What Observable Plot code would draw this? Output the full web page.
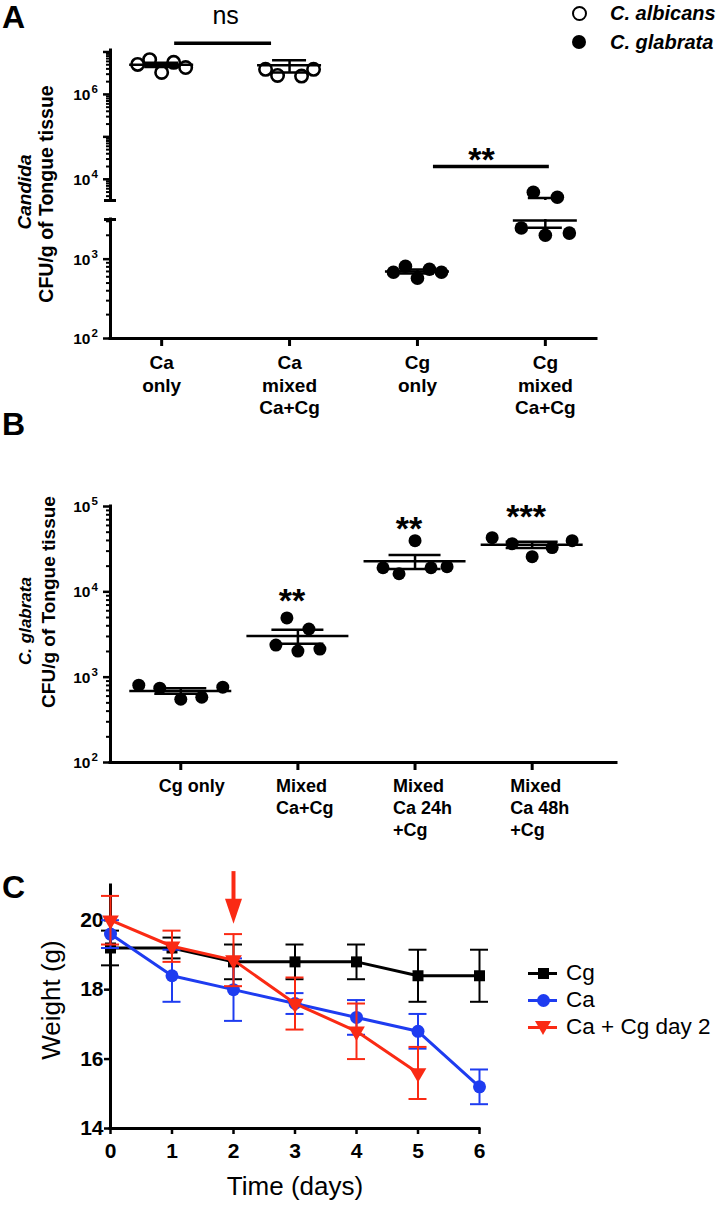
<!DOCTYPE html>
<html><head><meta charset="utf-8">
<script src="https://cdn.jsdelivr.net/npm/d3@7"></script>
<script src="https://cdn.jsdelivr.net/npm/@observablehq/plot@0.6"></script>
<style>
html,body{margin:0;padding:0;background:#fff;}
#root{position:relative;width:721px;height:1205px;overflow:hidden;font-family:"Liberation Sans",Arial,Helvetica,sans-serif;color:#000;}
.abs{position:absolute;white-space:nowrap;line-height:1;}
#root svg{position:absolute;left:0;overflow:visible;}
</style></head><body><div id="root"></div>
<script>
// ================= DATA =================
// Panel A : Candida CFU/g of tongue tissue
const groupsA = ["Ca only", "Ca mixed", "Cg only", "Cg mixed"];
const labelsA = ["Ca\nonly", "Ca\nmixed\nCa+Cg", "Cg\nonly", "Cg\nmixed\nCa+Cg"];
const speciesA = ["albicans", "albicans", "glabrata", "glabrata"];
const caOnlyA  = [5.1e6, 6.6e6, 3.3e6, 5.7e6, 4.3e6];
const caMixedA = [3.9e6, 2.8e6, 1.1e7, 2.7e6, 3.9e6];
const cgOnlyA  = [684, 815, 575, 747, 684];
const cgMixedA = [2470, 4940, 2000, 3770, 2130];
const sigA = [
  {from: 0, to: 1, bar: 1.6e7, text: "ns", textY: 7.2e7},
  {from: 2, to: 3, bar: 2.0e4, text: "**", textY: 2.8e4}
];
const legendA = ["C. albicans", "C. glabrata"];

// Panel B : C. glabrata CFU/g of tongue tissue
const groupsB = ["Cg only", "Mixed Ca+Cg", "Mixed Ca 24h +Cg", "Mixed Ca 48h +Cg"];
const labelsB = ["Cg only", "Mixed\nCa+Cg", "Mixed\nCa 24h\n+Cg", "Mixed\nCa 48h\n+Cg"];
const cgOnlyB = [805, 743, 551, 582, 763];
const mixedB  = [2380, 4940, 2020, 3670, 2135];
const ca24B   = [19150, 16280, 39800, 19150, 19700];
const ca48B   = [43150, 36700, 25800, 33000, 39800];
const sigB = [
  {group: 1, text: "**", y: 7840},
  {group: 2, text: "**", y: 54600},
  {group: 3, text: "***", y: 75300}
];

// Panel C : weight over time
const days = [0, 1, 2, 3, 4, 5, 6];
const seriesC = ["Cg", "Ca", "Ca + Cg day 2"];
const cgWeight = [19.2, 19.2, 18.8, 18.8, 18.8, 18.4, 18.4];
const cgSem    = [0.5, 0.3, 0.5, 0.5, 0.5, 0.75, 0.75];
const caWeight = [19.6, 18.4, 18.0, 17.6, 17.2, 16.8, 15.2];
const caSem    = [0.4, 0.75, 0.9, 0.3, 0.5, 0.5, 0.5];
const mixWeight = [20.0, 19.25, 18.85, 17.6, 16.8, 15.6];
const mixSem    = [0.7, 0.45, 0.75, 0.75, 0.8, 0.75];
const arrowC = {day: 2, from: 21.4, to: 19.9};
const yTicksC = [14, 16, 18, 20];

// ================= LAYOUT / STYLE =================
const FONT = '"Liberation Sans", Arial, Helvetica, sans-serif';
const BLUE = "#1e3cf0", RED = "#fa2a14";
const root = document.getElementById("root");
const majorTicks = d3.range(2, 8).map(e => 10 ** e);
const minorTicks = d3.range(2, 8).flatMap(e => d3.range(2, 10).map(k => k * 10 ** e));
const expo = v => String(Math.round(Math.log10(v)));

function place(svg, top) { svg.style.top = top + "px"; root.append(svg); }
function txt(s, o) {
  const d = document.createElement("div");
  d.className = "abs"; d.textContent = s;
  d.style.fontSize = o.size + "px";
  d.style.fontWeight = o.weight || "bold";
  d.style.fontStyle = o.style || "normal";
  if (o.rotate) {
    d.style.left = o.x + "px"; d.style.top = o.y + "px";
    d.style.transform = "translate(-50%,-50%) rotate(-90deg)";
  } else {
    d.style.left = o.x + "px";
    d.style.top = (o.y - 0.8465 * o.size) + "px";
    if (o.anchor === "middle") d.style.transform = "translateX(-50%)";
  }
  root.append(d);
  return d;
}
function box(o) {
  const d = document.createElement("div");
  d.style.position = "absolute";
  Object.assign(d.style, o);
  root.append(d);
}
function stats(vals, g) {
  const m = d3.mean(vals), s = d3.deviation(vals) / Math.sqrt(vals.length);
  return {g, mean: m, lo: m - s, hi: m + s};
}
// log axis: ticks + "10" with superscript exponent labels
function logAxisMarks(majors, minors, labelled) {
  return [
    Plot.axisY({ticks: majors, tickSize: 7, strokeWidth: 2.5, tickFormat: () => "", label: null}),
    Plot.axisY({ticks: minors, tickSize: 4, strokeWidth: 2, tickFormat: () => "", label: null}),
    Plot.text(labelled, {y: d => d, frameAnchor: "left", text: () => "10", textAnchor: "end", dx: -20, dy: 0.5, fontSize: 15.5, fontWeight: "bold"}),
    Plot.text(labelled, {y: d => d, frameAnchor: "left", text: expo, textAnchor: "start", dx: -19, dy: -5, fontSize: 11.5, fontWeight: "bold"})
  ];
}

// ================= PANEL A =================
const seriesA = [caOnlyA, caMixedA, cgOnlyA, cgMixedA];
const pointsA = seriesA.flatMap((vals, g) => vals.map((v, k) => ({g, k, v, species: speciesA[g]})));
const statsA = seriesA.map(stats);
const xDomA = [-0.4, 3.4];
const breakA = 10 ** 3.5;
const jitterA = 12, meanHalfA = 32, semHalfA = 17;
const sigInsetsA = [[13, 18], [16, -4]];
const labelledA = [1e2, 1e3, 1e4, 1e6];

function segmentA(seg) {
  const [lo, hi] = seg.domain;
  const inSeg = v => v >= lo * 0.9999 && v <= hi * 1.0001;
  const clamp = v => Math.max(lo, Math.min(hi, v));
  const marks = [
    Plot.ruleX([xDomA[0]], {stroke: "black", strokeWidth: 3, strokeLinecap: "square"}),
    ...logAxisMarks(majorTicks.filter(inSeg), minorTicks.filter(inSeg), labelledA.filter(inSeg)),
    Plot.ruleY([breakA], {x1: xDomA[0], x2: xDomA[0], insetLeft: -6, insetRight: -6, strokeWidth: 3})
  ];
  for (const sp of ["albicans", "glabrata"]) for (let k = 0; k < 5; k++) {
    const pts = pointsA.filter(d => d.species === sp && d.k === k && inSeg(d.v));
    marks.push(Plot.dot(pts, {x: "g", y: "v", dx: (k - 2) * jitterA, r: sp === "albicans" ? 6.2 : 6.8,
      fill: sp === "albicans" ? "white" : "black", stroke: "black", strokeWidth: sp === "albicans" ? 2.6 : 0}));
  }
  marks.push(
    Plot.ruleY(statsA.filter(d => inSeg(d.mean)), {x1: "g", x2: "g", y: "mean", insetLeft: -meanHalfA, insetRight: -meanHalfA, strokeWidth: 2.5}),
    Plot.ruleY(statsA.filter(d => inSeg(d.hi)), {x1: "g", x2: "g", y: "hi", insetLeft: -semHalfA, insetRight: -semHalfA, strokeWidth: 2.5}),
    Plot.ruleY(statsA.filter(d => inSeg(d.lo)), {x1: "g", x2: "g", y: "lo", insetLeft: -semHalfA, insetRight: -semHalfA, strokeWidth: 2.5}),
    Plot.ruleX(statsA.filter(d => d.hi >= lo && d.lo <= hi), {x: "g", y1: d => clamp(d.lo), y2: d => clamp(d.hi), strokeWidth: 2.5})
  );
  if (seg.sig) {
    sigA.forEach((s, i) => marks.push(Plot.ruleY([s], {x1: "from", x2: "to", y: "bar",
      insetLeft: sigInsetsA[i][0], insetRight: sigInsetsA[i][1], strokeWidth: 3.5})));
    marks.push(Plot.text(sigA.filter(s => s.text === "ns"), {x: d => (d.from + d.to) / 2, y: "textY", text: "text", fontSize: 25, fontWeight: "normal"}));
    marks.push(Plot.text(sigA.filter(s => s.text !== "ns"), {x: d => (d.from + d.to) / 2, y: "textY", text: "text", fontSize: 34, fontWeight: "bold"}));
  }
  if (seg.xAxis) {
    marks.push(
      Plot.ruleY([lo], {stroke: "black", strokeWidth: 3, strokeLinecap: "square"}),
      Plot.axisX({ticks: [0, 1, 2, 3], tickSize: 8, strokeWidth: 3, tickFormat: () => "", label: null}),
      Plot.text(d3.range(groupsA.length), {x: d => d, text: d => labelsA[d], frameAnchor: "bottom",
        lineAnchor: "top", dy: 15, lineHeight: 1.18, fontSize: 19, fontWeight: "bold"})
    );
  }
  return Plot.plot({
    width: 721, height: seg.height, marginLeft: 110, marginRight: 125,
    marginTop: seg.marginTop, marginBottom: seg.marginBottom,
    x: {domain: xDomA, axis: seg.xAxis ? undefined : null},
    y: {type: "log", domain: seg.domain},
    style: {fontFamily: FONT, fontSize: "16px", fontWeight: "bold", color: "black", background: "transparent", overflow: "visible"},
    marks
  });
}
place(segmentA({domain: [breakA, 10 ** 7.035], height: 200, marginTop: 50, marginBottom: 0, sig: true}), 0);
place(segmentA({domain: [100, breakA], height: 218, marginTop: 19, marginBottom: 80, xAxis: true}), 200);

// ================= PANEL B =================
const seriesB = [cgOnlyB, mixedB, ca24B, ca48B];
const pointsB = seriesB.flatMap((vals, g) => vals.map((v, k) => ({g, k, v})));
const statsB = seriesB.map(stats);
const jitterB = [21, 11, 16, 20];
const meanHalfB = 51, semHalfB = 26;
const xDomB = [-0.6, 3.72];
{
  const marks = [
    Plot.ruleX([xDomB[0]], {stroke: "black", strokeWidth: 3, strokeLinecap: "square"}),
    Plot.ruleY([100], {stroke: "black", strokeWidth: 3, strokeLinecap: "square"}),
    ...logAxisMarks(majorTicks.filter(v => v <= 1e5), minorTicks.filter(v => v < 1e5), majorTicks.filter(v => v <= 1e5)),
    Plot.axisX({ticks: [0, 1, 2, 3], tickSize: 8, strokeWidth: 3, tickFormat: () => "", label: null}),
    Plot.text(d3.range(groupsB.length), {x: d => d, text: d => labelsB[d], frameAnchor: "bottom", textAnchor: "start",
      lineAnchor: "top", dx: -22, dy: 14, lineHeight: 1.22, fontSize: 18, fontWeight: "bold"})
  ];
  for (let g = 0; g < 4; g++) for (let k = 0; k < 5; k++) {
    marks.push(Plot.dot(pointsB.filter(d => d.g === g && d.k === k), {x: "g", y: "v", dx: (k - 2) * jitterB[g], r: 6.5, fill: "black"}));
  }
  marks.push(
    Plot.ruleY(statsB, {x1: "g", x2: "g", y: "mean", insetLeft: -meanHalfB, insetRight: -meanHalfB, strokeWidth: 2.5}),
    Plot.ruleY(statsB, {x1: "g", x2: "g", y: "hi", insetLeft: -semHalfB, insetRight: -semHalfB, strokeWidth: 2.5}),
    Plot.ruleY(statsB, {x1: "g", x2: "g", y: "lo", insetLeft: -semHalfB, insetRight: -semHalfB, strokeWidth: 2.5}),
    Plot.ruleX(statsB, {x: "g", y1: "lo", y2: "hi", strokeWidth: 2.5}),
    Plot.text(sigB, {x: "group", y: "y", text: "text", dx: -6, fontSize: 34, fontWeight: "bold"})
  );
  place(Plot.plot({
    width: 721, height: 400, marginLeft: 110, marginRight: 105, marginTop: 66, marginBottom: 78,
    x: {domain: xDomB},
    y: {type: "log", domain: [100, 1e5]},
    style: {fontFamily: FONT, fontSize: "16px", fontWeight: "bold", color: "black", background: "transparent", overflow: "visible"},
    marks
  }), 440);
}

// ================= PANEL C =================
const recC = [
  ...days.map((d, i) => ({series: "Cg", day: d, w: cgWeight[i], e: cgSem[i]})),
  ...days.map((d, i) => ({series: "Ca", day: d, w: caWeight[i], e: caSem[i]})),
  ...mixWeight.map((w, i) => ({series: "Ca + Cg day 2", day: days[i], w, e: mixSem[i]}))
];
const colorC = {"Cg": "black", "Ca": BLUE, "Ca + Cg day 2": RED};
const headSymbol = {draw(ctx) { ctx.moveTo(-8.5, -25); ctx.lineTo(8.5, -25); ctx.lineTo(0, 0); ctx.closePath(); }};
{
  const marks = [
    Plot.ruleX([0], {stroke: "black", strokeWidth: 3, strokeLinecap: "square"}),
    Plot.ruleY([14], {stroke: "black", strokeWidth: 3, strokeLinecap: "square"}),
    Plot.axisY({ticks: yTicksC, tickSize: 6, tickPadding: 1, strokeWidth: 2.5, tickFormat: d3.format("d"), label: null}),
    Plot.axisX({ticks: days, tickSize: 6, tickPadding: 9, strokeWidth: 2.5, tickFormat: d3.format("d"), label: null})
  ];
  for (const s of seriesC) {
    const data = recC.filter(d => d.series === s);
    const c = colorC[s];
    marks.push(
      Plot.ruleX(data, {x: "day", y1: d => d.w - d.e, y2: d => d.w + d.e, stroke: c, strokeWidth: 2}),
      Plot.ruleY(data, {x1: "day", x2: "day", y: d => d.w + d.e, insetLeft: -9, insetRight: -9, stroke: c, strokeWidth: 2}),
      Plot.ruleY(data, {x1: "day", x2: "day", y: d => d.w - d.e, insetLeft: -9, insetRight: -9, stroke: c, strokeWidth: 2}),
      Plot.line(data, {x: "day", y: "w", stroke: c, strokeWidth: 3})
    );
    if (s === "Cg") marks.push(Plot.dot(data, {x: "day", y: "w", symbol: "square", r: 6.2, fill: c}));
    else if (s === "Ca") marks.push(Plot.dot(data, {x: "day", y: "w", symbol: "circle", r: 6.5, fill: c}));
    else marks.push(Plot.dot(data, {x: "day", y: "w", symbol: "triangle", rotate: 180, r: 6.2, fill: c}));
  }
  marks.push(
    Plot.ruleX([arrowC], {x: "day", y1: "from", y2: "to", insetBottom: 18, stroke: RED, strokeWidth: 4}),
    Plot.dot([arrowC], {x: "day", y: "to", symbol: headSymbol, fill: RED})
  );
  place(Plot.plot({
    width: 721, height: 365, marginLeft: 110, marginRight: 242, marginTop: 45, marginBottom: 77,
    x: {domain: [0, 6]},
    y: {domain: [14, 21]},
    style: {fontFamily: FONT, fontSize: "21px", fontWeight: "bold", color: "black", background: "transparent", overflow: "visible"},
    marks
  }), 840);
}

// ================= HTML TEXT / LEGENDS =================
txt("A", {x: 2, y: 28, size: 32});
txt("B", {x: 2, y: 435, size: 32});
txt("C", {x: 2, y: 898, size: 32});

// legend A
box({left: "571.5px", top: "5.5px", width: "15px", height: "15px", boxSizing: "border-box", border: "2.6px solid black", borderRadius: "50%", background: "white"});
box({left: "572px", top: "35px", width: "14px", height: "14px", borderRadius: "50%", background: "black"});
txt(legendA[0], {x: 610, y: 20, size: 20, style: "italic"});
txt(legendA[1], {x: 610, y: 49, size: 20, style: "italic"});

// axis titles A / B
txt("Candida", {x: 24, y: 192, size: 19, style: "italic", rotate: true});
txt("CFU/g of Tongue tissue", {x: 47, y: 194, size: 19.5, rotate: true});
txt("C. glabrata", {x: 25, y: 621, size: 17, style: "italic", rotate: true});
txt("CFU/g of Tongue tissue", {x: 48, y: 602, size: 19, rotate: true});

// axis titles C
txt("Weight (g)", {x: 51, y: 1000, size: 26, weight: "normal", rotate: true});
txt("Time (days)", {x: 295, y: 1195, size: 26, weight: "normal", anchor: "middle"});

// legend C
const legRows = [973, 1000, 1027];
seriesC.forEach((s, i) => {
  const y = legRows[i], c = colorC[s];
  box({left: "528px", top: (y - 1.5) + "px", width: "29px", height: "3px", background: c});
  if (i === 0) box({left: "537.5px", top: (y - 5.5) + "px", width: "11px", height: "11px", background: c});
  if (i === 1) box({left: "536.5px", top: (y - 6.5) + "px", width: "13px", height: "13px", borderRadius: "50%", background: c});
  if (i === 2) box({left: "535px", top: (y - 6) + "px", width: "0", height: "0", borderLeft: "8px solid transparent", borderRight: "8px solid transparent", borderTop: "14px solid " + c});
  txt(s, {x: 566, y: y + 8, size: 22.5, weight: "normal"});
});
</script>
</body></html>
